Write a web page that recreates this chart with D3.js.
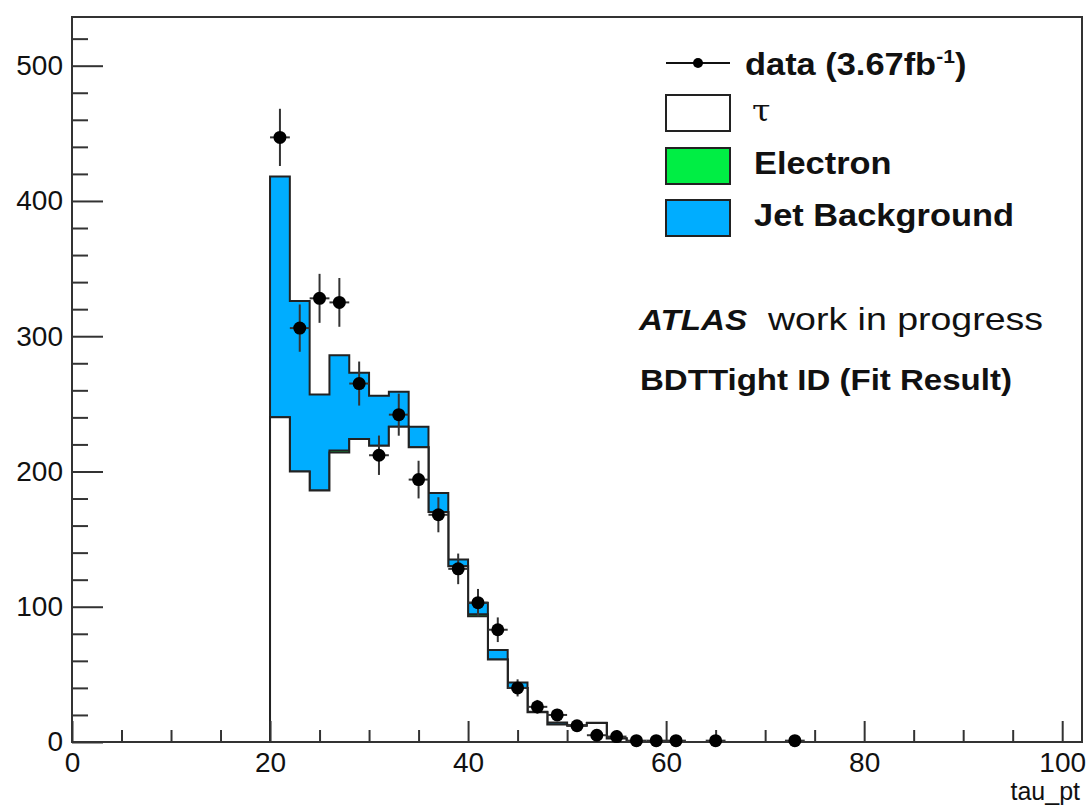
<!DOCTYPE html>
<html>
<head>
<meta charset="utf-8">
<script src="https://cdn.jsdelivr.net/npm/d3@7"></script>
<style>
body { margin: 0; background: #fff; }
text { font-family: "Liberation Sans", Arial, Helvetica, sans-serif; fill: #111; }
</style>
</head>
<body>
<script>
var w = 1091;
var h = 810;

// histogram bins (lower edge, width 2 GeV)
var binLow = [20, 22, 24, 26, 28, 30, 32, 34, 36, 38, 40, 42, 44, 46, 48, 50, 52, 54];
var binWidth = 2;
var tauCounts = [240, 200, 186, 214, 224, 219, 233, 218, 170, 130, 93, 61, 40, 22, 13, 12, 14, 2.5];
var electronCounts = [0, 0, 0, 1.5, 0, 0, 0, 0, 0, 0, 1.5, 0, 0, 0, 0, 0, 0, 0];
var jetCounts = [178, 126, 71, 70.5, 49, 37, 26, 15, 14, 5, 8.5, 7, 4, 0.4, 1.5, 0.3, 0.3, 0.2];

// data points (bin centres and counts)
var dataX = [21, 23, 25, 27, 29, 31, 33, 35, 37, 39, 41, 43, 45, 47, 49, 51, 53, 55, 57, 59, 61, 65, 73];
var dataY = [447, 306, 328, 325, 265, 212, 242, 194, 168, 128, 103, 83, 40, 26, 20, 12, 5, 4, 1, 1, 1, 1, 1];

var xMajor = [0, 20, 40, 60, 80, 100];
var yMajor = [0, 100, 200, 300, 400, 500];

var colors = { jet: '#00adff', electron: '#00ee44', tau: '#ffffff', line: '#222' };

var svg = d3.select('body')
	.append('svg')
	.attr('width', w)
	.attr('height', h);

var x = d3.scaleLinear().domain([0, 102]).range([72, 1082]);
var y = d3.scaleLinear().domain([0, 536]).range([742, 17]);

// stacked sums
var tauE = tauCounts.map(function(d, i) { return d + electronCounts[i]; });
var total = tauE.map(function(d, i) { return d + jetCounts[i]; });

function steps(vals) {
	var pts = [[binLow[0], 0]];
	vals.forEach(function(v, i) {
		pts.push([binLow[i], v]);
		pts.push([binLow[i] + binWidth, v]);
	});
	pts.push([binLow[binLow.length - 1] + binWidth, 0]);
	pts.push([100, 0]);
	return pts;
}

var area = d3.area()
	.x(function(d) { return x(d[0]); })
	.y0(y(0))
	.y1(function(d) { return y(d[1]); });
var line = d3.line()
	.x(function(d) { return x(d[0]); })
	.y(function(d) { return y(d[1]); });

[[total, colors.jet], [tauE, colors.electron], [tauCounts, colors.tau]].forEach(function(s) {
	var pts = steps(s[0]);
	svg.append('path').attr('d', area(pts)).attr('fill', s[1]);
	svg.append('path').attr('d', line(pts))
		.attr('fill', 'none')
		.attr('stroke', colors.line)
		.attr('stroke-width', 2);
});

// axes
var yMinor = d3.range(0, 536, 20).filter(function(v) { return v % 100 !== 0; });
var xMinor = d3.range(0, 102, 5).filter(function(v) { return v % 20 !== 0; });

svg.append('g')
	.attr('transform', 'translate(72,0)')
	.call(d3.axisLeft(y).tickValues(yMinor).tickSize(-16).tickFormat(''))
	.call(function(g) { g.select('.domain').remove(); });
var yAxis = svg.append('g')
	.attr('transform', 'translate(72,0)')
	.call(d3.axisLeft(y).tickValues(yMajor).tickSize(-31).tickPadding(9));
yAxis.select('.domain').remove();

svg.append('g')
	.attr('transform', 'translate(0,742)')
	.call(d3.axisBottom(x).tickValues(xMinor).tickSize(-12).tickFormat(''))
	.call(function(g) { g.select('.domain').remove(); });
var xAxis = svg.append('g')
	.attr('transform', 'translate(0,742)')
	.call(d3.axisBottom(x).tickValues(xMajor).tickSize(-21).tickPadding(10));
xAxis.select('.domain').remove();

svg.selectAll('.tick line').attr('stroke', '#333').attr('stroke-width', 2);
svg.selectAll('.tick text')
	.style('font-size', '28px')
	.attr('fill', '#111');

svg.append('rect')
	.attr('x', 72).attr('y', 17)
	.attr('width', 1082 - 72).attr('height', 742 - 17)
	.attr('fill', 'none')
	.attr('stroke', '#333')
	.attr('stroke-width', 2);

svg.append('text')
	.attr('x', 1080).attr('y', 800)
	.attr('text-anchor', 'end')
	.style('font-size', '25px')
	.text('tau_pt');

// data points
var pts = svg.append('g');
dataX.forEach(function(cx, i) {
	var v = dataY[i], e = Math.sqrt(v);
	pts.append('line')
		.attr('x1', x(cx - 1)).attr('x2', x(cx + 1))
		.attr('y1', y(v)).attr('y2', y(v))
		.attr('stroke', '#333').attr('stroke-width', 2);
	pts.append('line')
		.attr('x1', x(cx)).attr('x2', x(cx))
		.attr('y1', y(v - e)).attr('y2', y(v + e))
		.attr('stroke', '#333').attr('stroke-width', 2);
	pts.append('circle')
		.attr('cx', x(cx)).attr('cy', y(v))
		.attr('r', 6.5)
		.attr('fill', '#000');
});

// legend
var leg = svg.append('g');
leg.append('line')
	.attr('x1', 666).attr('x2', 730).attr('y1', 63).attr('y2', 63)
	.attr('stroke', '#111').attr('stroke-width', 2);
leg.append('circle').attr('cx', 698).attr('cy', 63).attr('r', 5).attr('fill', '#000');

var dataLabel = leg.append('text')
	.attr('transform', 'translate(745,75) scale(1.11,1)')
	.style('font-size', '31px')
	.style('font-weight', 'bold');
dataLabel.append('tspan').text('data (3.67fb');
dataLabel.append('tspan').attr('dy', -12).style('font-size', '19px').text('-1');
dataLabel.append('tspan').attr('dy', 12).text(')');

var boxes = [
	{ label: '\u03c4', fill: colors.tau, y: 95, serif: true },
	{ label: 'Electron', fill: colors.electron, y: 148 },
	{ label: 'Jet Background', fill: colors.jet, y: 200 }
];
boxes.forEach(function(b) {
	leg.append('rect')
		.attr('x', 666).attr('y', b.y)
		.attr('width', 64).attr('height', 36)
		.attr('fill', b.fill)
		.attr('stroke', '#222').attr('stroke-width', 2);
	var t = leg.append('text')
		.attr('transform', 'translate(' + (b.serif ? 752 : 754) + ',' + (b.y + 26) + ') scale(1.11,1)')
		.style('font-size', b.serif ? '30px' : '31px')
		.text(b.label);
	if (b.serif) t.style('font-family', '"DejaVu Serif", "Liberation Serif", serif');
	else t.style('font-weight', 'bold');
});

// annotations
svg.append('text')
	.attr('x', 639).attr('y', 330)
	.attr('textLength', 108).attr('lengthAdjust', 'spacingAndGlyphs')
	.style('font-size', '30px')
	.style('font-weight', 'bold')
	.style('font-style', 'italic')
	.text('ATLAS');
svg.append('text')
	.attr('x', 768).attr('y', 330)
	.attr('textLength', 275).attr('lengthAdjust', 'spacingAndGlyphs')
	.style('font-size', '32px')
	.text('work in progress');
svg.append('text')
	.attr('x', 640).attr('y', 390)
	.attr('textLength', 372).attr('lengthAdjust', 'spacingAndGlyphs')
	.style('font-size', '29px')
	.style('font-weight', 'bold')
	.text('BDTTight ID (Fit Result)');
</script>
</body>
</html>
